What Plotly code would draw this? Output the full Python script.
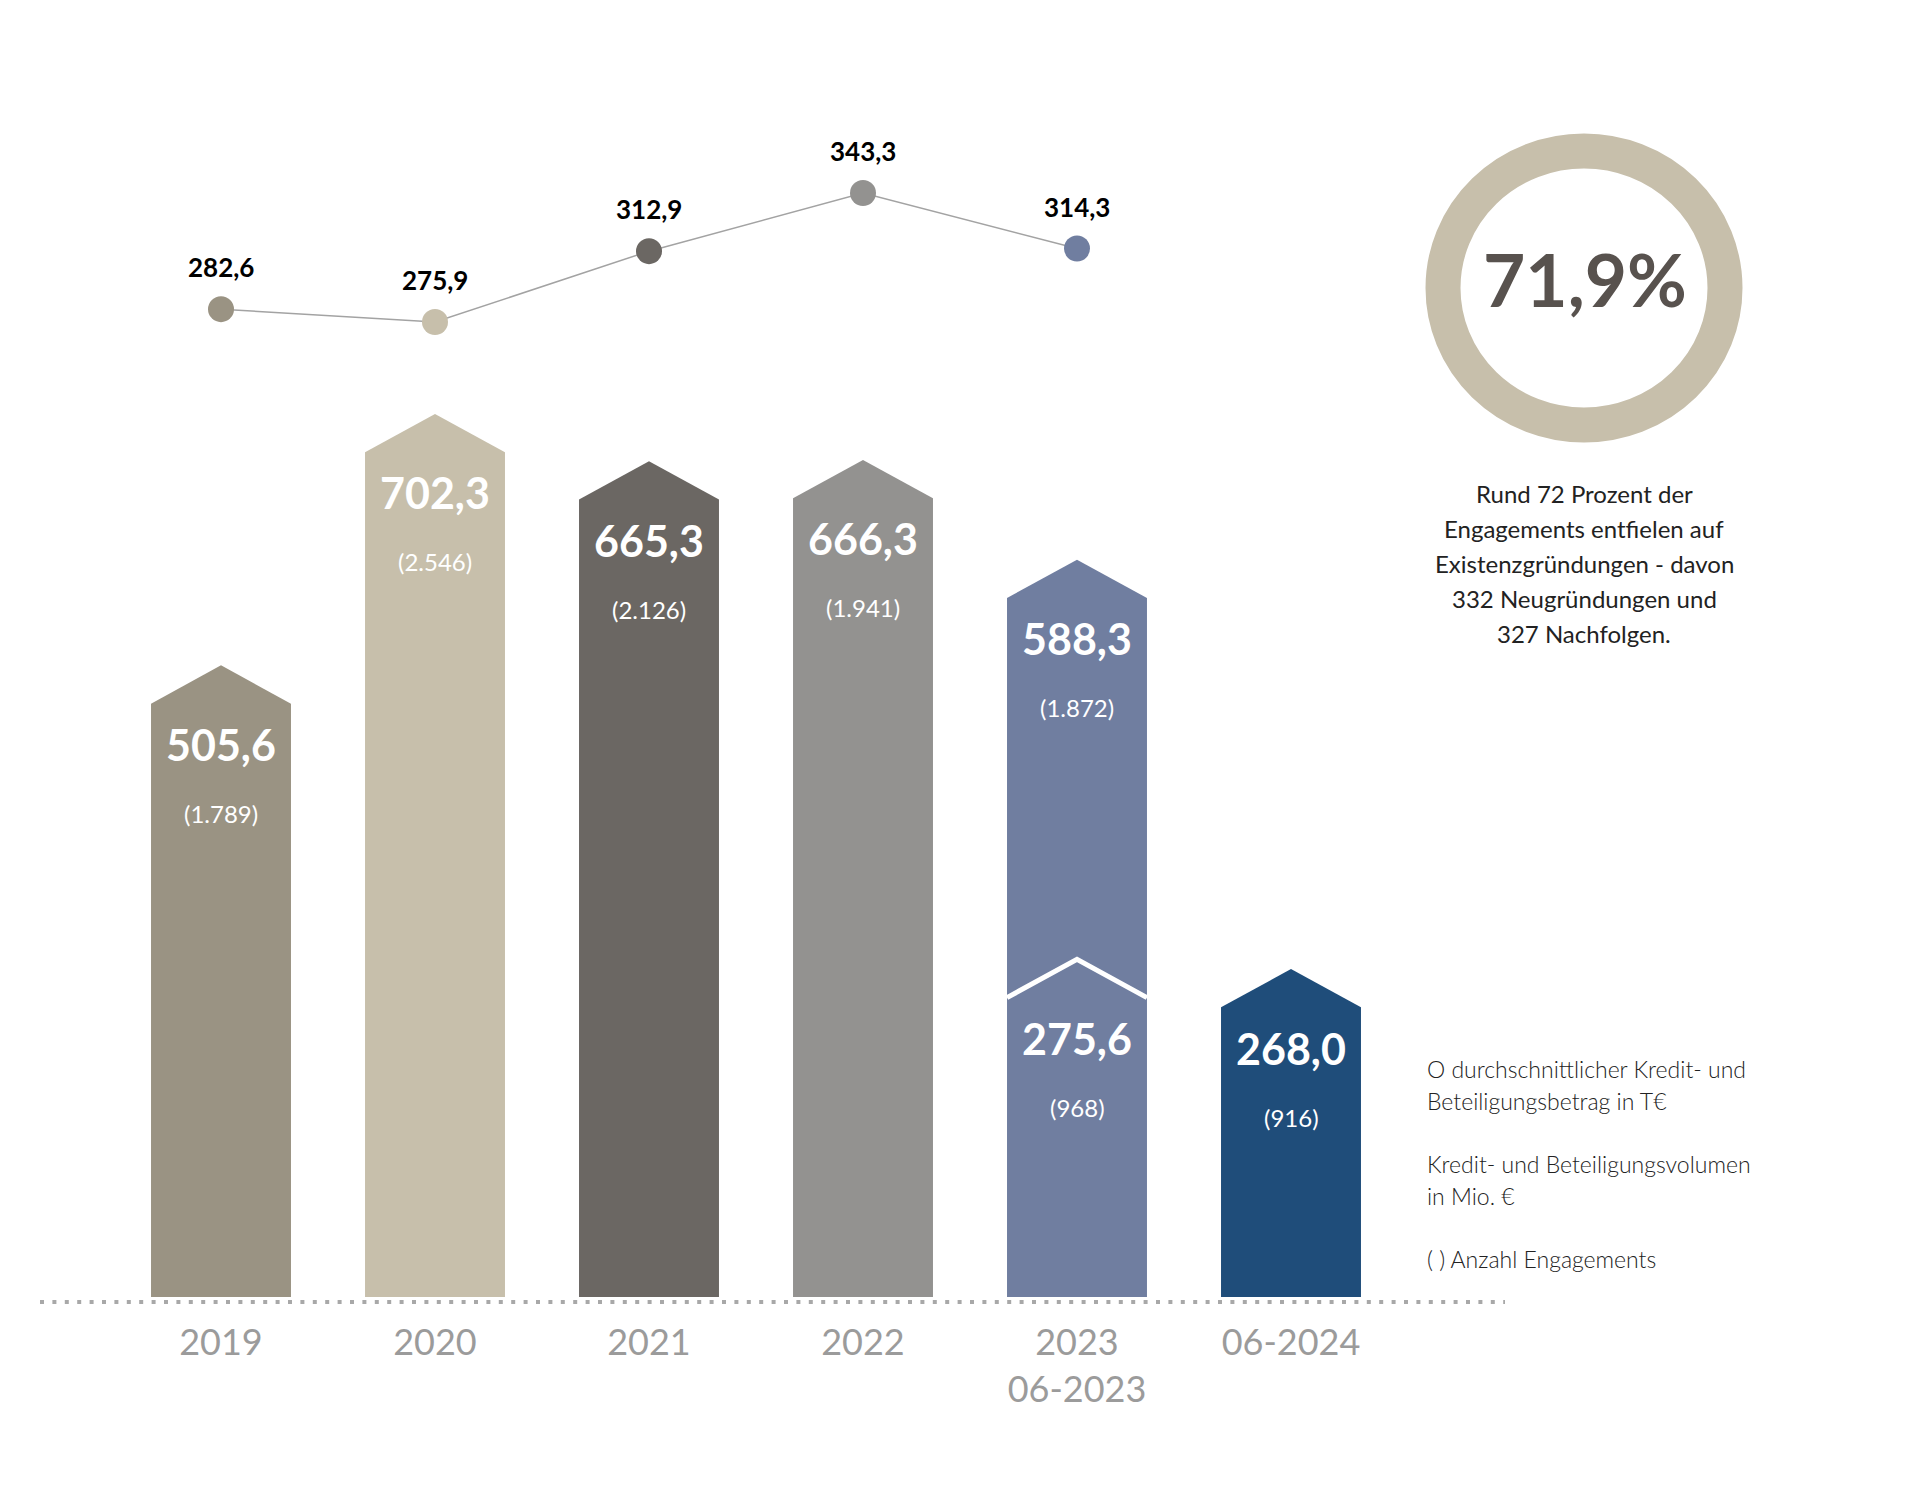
import plotly.graph_objects as go

# ---- data ----
categories = ["2019", "2020", "2021", "2022", "2023<br>06-2023", "06-2024"]
volume = [505.6, 702.3, 665.3, 666.3, 588.3, 268.0]          # Mio. €
engagements = [1789, 2546, 2126, 1941, 1872, 916]
bar_colors = ["#9a9383", "#c7bfab", "#6b6763", "#939290", "#707ea0", "#1f4d7a"]

half_year_index = 4            # 2023 bar also shows 06-2023
half_year_volume = 275.6
half_year_engagements = 968

avg_amount = [282.6, 275.9, 312.9, 343.3, 314.3]              # T€
avg_labels = ["282,6", "275,9", "312,9", "343,3", "314,3"]

share_text = "71,9%"
share_note = ["Rund 72 Prozent der", "Engagements entfielen auf",
              "Existenzgründungen - davon", "332 Neugründungen und",
              "327 Nachfolgen."]
legend_lines = ["O durchschnittlicher Kredit- und", "Beteiligungsbetrag in T€",
                "", "Kredit- und Beteiligungsvolumen", "in Mio. €",
                "", "( ) Anzahl Engagements"]

# ---- helpers ----
def de_num(v, dec=1):
    s = f"{v:,.{dec}f}"
    return s.replace(",", "X").replace(".", ",").replace("X", ".")

OFF = 8                  # browser body margin compensation (px)
W = 1920
H_PLOT = 1297 - OFF      # plot bottom = foot of the bars

HW = 0.327      # half bar width (x units)
NOTCH = 30.0    # arrow height (y units)

fig = go.Figure()

for i, (v, c) in enumerate(zip(volume, bar_colors)):
    xs = [i - HW, i - HW, i, i + HW, i + HW, i - HW]
    ys = [0, v - NOTCH, v, v - NOTCH, 0, 0]
    fig.add_trace(go.Scatter(x=xs, y=ys, mode="lines", fill="toself",
                             fillcolor=c, line=dict(width=0, color=c),
                             hoverinfo="skip", showlegend=False))

# white chevron marking the half-year part of the 2023 bar
i = half_year_index
fig.add_trace(go.Scatter(x=[i - HW, i, i + HW],
                         y=[half_year_volume - NOTCH, half_year_volume, half_year_volume - NOTCH],
                         mode="lines", line=dict(color="white", width=5),
                         hoverinfo="skip", showlegend=False))

# average amount line
fig.add_trace(go.Scatter(x=list(range(len(avg_amount))), y=avg_amount, yaxis="y2",
                         mode="lines+markers",
                         line=dict(color="#a3a3a3", width=1.5),
                         marker=dict(size=26, color=bar_colors[:len(avg_amount)]),
                         hoverinfo="skip", showlegend=False))

annotations = []
VAL_FONT = dict(family="Lato", size=43, color="white", weight="bold")
CNT_FONT = dict(family="Lato", size=24, color="white")
def bar_labels(x, v, n):
    annotations.append(dict(x=x, y=v, xref="x", yref="y", yshift=-79,
                            xanchor="center", yanchor="middle",
                            text=de_num(v), showarrow=False, font=VAL_FONT))
    annotations.append(dict(x=x, y=v, xref="x", yref="y", yshift=-148,
                            xanchor="center", yanchor="middle",
                            text=f"({de_num(n, 0)})", showarrow=False, font=CNT_FONT))

for i, (v, n) in enumerate(zip(volume, engagements)):
    bar_labels(i, v, n)
bar_labels(half_year_index, half_year_volume, half_year_engagements)

for i, (v, t) in enumerate(zip(avg_amount, avg_labels)):
    annotations.append(dict(x=i, y=v, xref="x", yref="y2", yshift=42, text=t,
                            xanchor="center", yanchor="middle", showarrow=False,
                            font=dict(family="Lato", size=26, color="black", weight="bold")))

def px(xp):   # reference pixel -> paper x
    return (xp - OFF) / W
def py(yp):   # reference pixel -> paper y
    return 1 - (yp - OFF) / H_PLOT

# donut text
cx, cy = 1584, 288
annotations.append(dict(x=px(1585), y=py(279), xref="paper", yref="paper",
                        xanchor="center", yanchor="middle",
                        text=share_text, showarrow=False,
                        font=dict(family="Lato", size=73, color="#58524e", weight="bold")))
for k, line in enumerate(share_note):
    annotations.append(dict(x=px(1584), y=py(493 + 35.2 * k), xref="paper", yref="paper",
                            xanchor="center", yanchor="middle",
                            text=line, showarrow=False,
                            font=dict(family="Lato", size=24, color="#222222")))
legend_y = [1069, 1101, None, 1164, 1196, None, 1259]
for line, yy in zip(legend_lines, legend_y):
    if not line:
        continue
    annotations.append(dict(x=px(1425), y=py(yy), xref="paper", yref="paper",
                            xanchor="left", yanchor="middle", text=line, showarrow=False,
                            font=dict(family="Lato", size=23, color="#222222", weight=300)))

shapes = [
    # donut ring
    dict(type="circle", xref="paper", yref="paper", xsizemode="pixel", ysizemode="pixel",
         xanchor=px(cx), yanchor=py(cy), x0=-141, x1=141, y0=-137, y1=137,
         line=dict(color="#c7bfab", width=35), fillcolor="rgba(0,0,0,0)"),
    # dotted baseline
    dict(type="line", xref="paper", yref="paper", x0=px(40), x1=px(1505),
         y0=py(1302), y1=py(1302),
         line=dict(color="#a8a8a8", width=4, dash="4px,8.4px")),
]

SCALE = 1.278                     # px per Mio. €
ZERO_PX = 1311.5 - OFF            # pixel row of value 0 (just below the plot floor)
y_min = (ZERO_PX - H_PLOT) / SCALE
y_max = y_min + H_PLOT / SCALE
S2 = 1.914                        # px per T€
y2_max = 275.9 + (322 - OFF) / S2
y2_min = y2_max - H_PLOT / S2
X0, DX = 221 - OFF, 214

fig.update_layout(
    width=1920, height=1486,
    margin=dict(l=0, r=0, t=0, b=1486 - H_PLOT),
    paper_bgcolor="white", plot_bgcolor="white",
    xaxis=dict(range=[-X0 / DX, (W - X0) / DX], tickvals=list(range(len(categories))),
               ticktext=categories, showgrid=False, zeroline=False, showline=False,
               ticks="", ticklabelstandoff=21,
               tickfont=dict(family="Lato", size=36, color="#9b9b9b")),
    yaxis=dict(range=[y_min, y_max], visible=False),
    yaxis2=dict(range=[y2_min, y2_max], overlaying="y", visible=False),
    annotations=annotations, shapes=shapes,
)

fig.write_html("out.html")
